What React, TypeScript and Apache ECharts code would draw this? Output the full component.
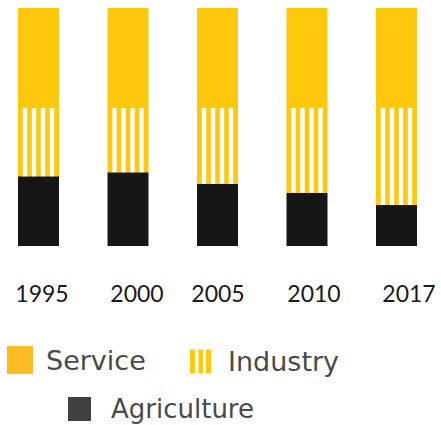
import React, { useEffect, useRef } from "react";
import * as echarts from "echarts";

const years = ["1995", "2000", "2005", "2010", "2017"];
const agriculture = [29.3, 31.0, 26.2, 22.4, 17.2];
const industry = [28.7, 27.0, 31.8, 35.6, 40.8];
const service = [42, 42, 42, 42, 42];

const YELLOW = "#FEC90D";
const DARK = "#161616";
const labelNudge = [7, 18, 1, 14, 25];

export default function App() {
  const ref = useRef<HTMLDivElement>(null);
  useEffect(() => {
    if (!ref.current) return;
    const chart = echarts.init(ref.current, undefined, { renderer: "svg" });
    const legendText = {
      color: "#4a4a4a",
      fontSize: 27,
      fontFamily: "DejaVu Sans",
    };
    chart.setOption({
      animation: false,
      grid: { left: 38.5, right: 44.5, top: 8, bottom: 179, containLabel: false },
      xAxis: {
        type: "category",
        boundaryGap: false,
        data: years.map((y, i) => ({
          value: y,
          textStyle: { padding: [0, 0, 0, labelNudge[i]] },
        })),
        axisLine: { show: false },
        axisTick: { show: false },
        splitLine: { show: false },
        axisLabel: {
          margin: 35,
          fontSize: 23,
          fontFamily: "Lato",
          color: "#1a1a1a",
        },
      },
      yAxis: { type: "value", min: 0, max: 100, show: false },
      legend: [
        {
          data: [{ name: "Service", itemStyle: { color: "#FBBD22" } }],
          left: 7,
          top: 346,
          padding: 0,
          itemWidth: 26,
          itemHeight: 28,
          icon: "rect",
          selectedMode: false,
          textStyle: { ...legendText, lineHeight: 28, padding: [0, 0, 0, 8] },
        },
        {
          data: [
            {
              name: "Industry",
              icon: "path://M0,0h5v24h-5z M8.5,0h4.5v24h-4.5z M16,0h5v24h-5z",
              itemStyle: { color: YELLOW },
            },
          ],
          left: 190,
          top: 348,
          padding: 0,
          itemWidth: 21,
          itemHeight: 24,
          selectedMode: false,
          textStyle: { ...legendText, lineHeight: 22, padding: [0, 0, 0, 12] },
        },
        {
          data: [{ name: "Agriculture", itemStyle: { color: "#404040" } }],
          left: 68,
          top: 396,
          padding: 0,
          itemWidth: 23,
          itemHeight: 24,
          icon: "rect",
          selectedMode: false,
          textStyle: { ...legendText, fontSize: 26, lineHeight: 24, padding: [0, 0, 0, 15] },
        },
      ],
      series: [
        {
          name: "Agriculture",
          type: "bar",
          stack: "total",
          barWidth: 41,
          data: agriculture,
          itemStyle: { color: DARK },
        },
        {
          name: "Industry",
          type: "bar",
          stack: "total",
          barWidth: 41,
          data: industry,
          itemStyle: { color: YELLOW },
        },
        {
          name: "Service",
          type: "bar",
          stack: "total",
          barWidth: 41,
          data: service,
          itemStyle: { color: YELLOW },
        },
        {
          name: "stripes",
          type: "custom",
          silent: true,
          z: 5,
          data: years.map((_, i) => [i, agriculture[i], agriculture[i] + industry[i]]),
          encode: { x: 0, y: [1, 2] },
          renderItem: (_params: any, api: any) => {
            const top = api.coord([api.value(0), api.value(2)]);
            const bot = api.coord([api.value(0), api.value(1)]);
            const children = [-13.5, -4.5, 4.5, 13.5].map((o) => ({
              type: "rect",
              shape: { x: top[0] + o - 2.2, y: top[1], width: 4.4, height: bot[1] - top[1] },
              style: { fill: "#ffffff" },
            }));
            return { type: "group", children };
          },
        },
      ],
    });
    return () => chart.dispose();
  }, []);
  return (
    <div
      ref={ref}
      style={{ position: "absolute", left: 0, top: 0, width: 441, height: 425 }}
    />
  );
}
